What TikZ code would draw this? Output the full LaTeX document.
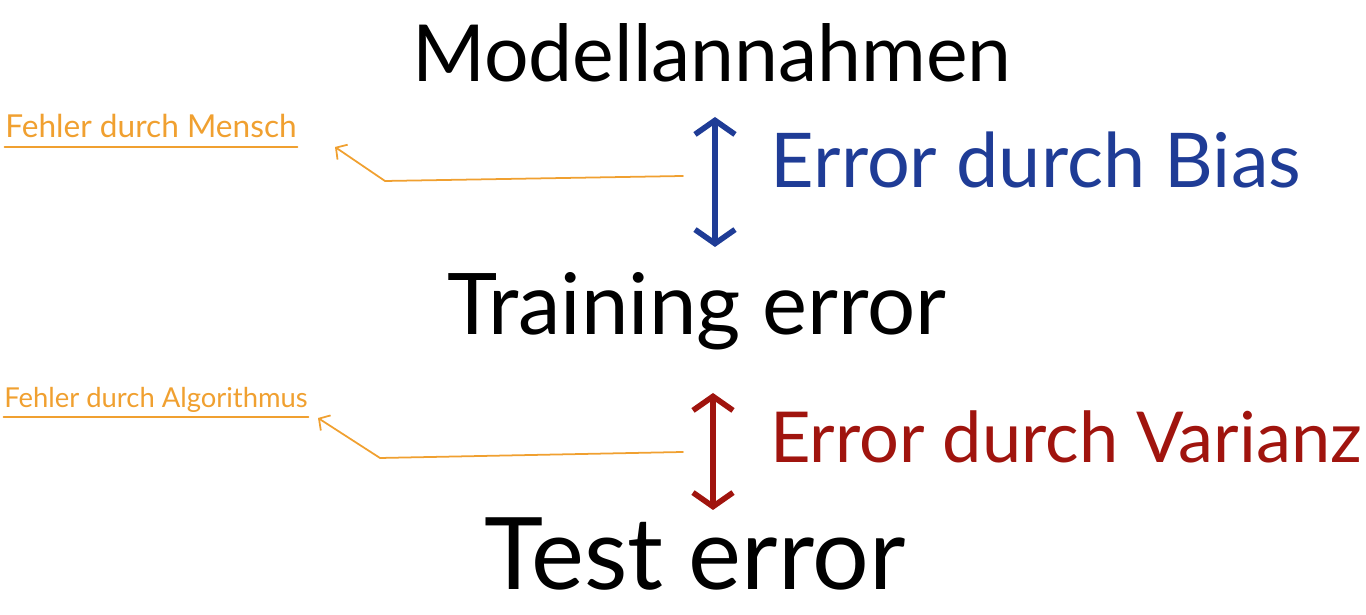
\documentclass[tikz,border=0pt]{standalone}
\usepackage{fontspec}
\setmainfont{Lato}
\usetikzlibrary{arrows.meta, positioning}

\definecolor{noteorange}{HTML}{F0A030}
\definecolor{biasblue}{HTML}{1F3C96}
\definecolor{varred}{HTML}{A0140E}

\begin{document}
\begin{tikzpicture}[
    x=0.1mm, y=-0.1mm,
    >={Straight Barb[length=1.4mm, width=4mm]}, line cap=round,
    big/.style={anchor=base, inner sep=0pt, font=\fontsize{22.4}{26}\selectfont},
    note/.style={anchor=base, inner sep=0pt, text=noteorange, font=\fontsize{9}{11}\selectfont},
    pointer/.style={draw=noteorange, line width=0.5pt, -{Straight Barb[length=0.8mm, width=1.8mm]}},
    underline/.style={draw=noteorange, line width=0.6pt},
    span/.style={<->, line width=1.6pt}
]
\useasboundingbox (0,0) rectangle (1366,615);
% main chain
\node[big] (model) at (712, 82) {Modellannahmen};
\node[big, font=\fontsize{24.2}{28}\selectfont] (train) at (697, 335) {Training error};
\node[big, font=\fontsize{28.5}{32}\selectfont] (test) at (695, 590) {Test error};
% error labels
\node[big, text=biasblue, font=\fontsize{21.5}{25}\selectfont] (bias) at (1036, 188) {Error durch Bias};
\node[big, text=varred, font=\fontsize{20}{24}\selectfont] (var) at (1066, 463) {Error durch Varianz};
% notes
\node[note] (mensch) at (151, 138) {Fehler durch Mensch};
\node[note, font=\fontsize{7.8}{10}\selectfont] (algo) at (156, 408) {Fehler durch Algorithmus};
\draw[underline] ([yshift=-2.5pt]mensch.base west) -- ([yshift=-2.5pt]mensch.base east);
\draw[underline] ([yshift=-2.5pt]algo.base west) -- ([yshift=-2.5pt]algo.base east);
% arrows
\coordinate (biasTop) at (715, 117);
\coordinate (biasBot) at (715, 247);
\coordinate (varTop) at (713, 393);
\coordinate (varBot) at (713, 510);
\draw[span, biasblue] (biasTop) -- (biasBot);
\draw[span, varred] (varTop) -- (varBot);
\coordinate (mStart) at (683, 176);
\coordinate (mBend) at (385, 181);
\coordinate (mTip) at (335, 147);
\coordinate (aStart) at (683, 452);
\coordinate (aBend) at (380, 458);
\coordinate (aTip) at (318, 418);
\draw[pointer] (mStart) -- (mBend) -- (mTip);
\draw[pointer] (aStart) -- (aBend) -- (aTip);
\end{tikzpicture}
\end{document}
